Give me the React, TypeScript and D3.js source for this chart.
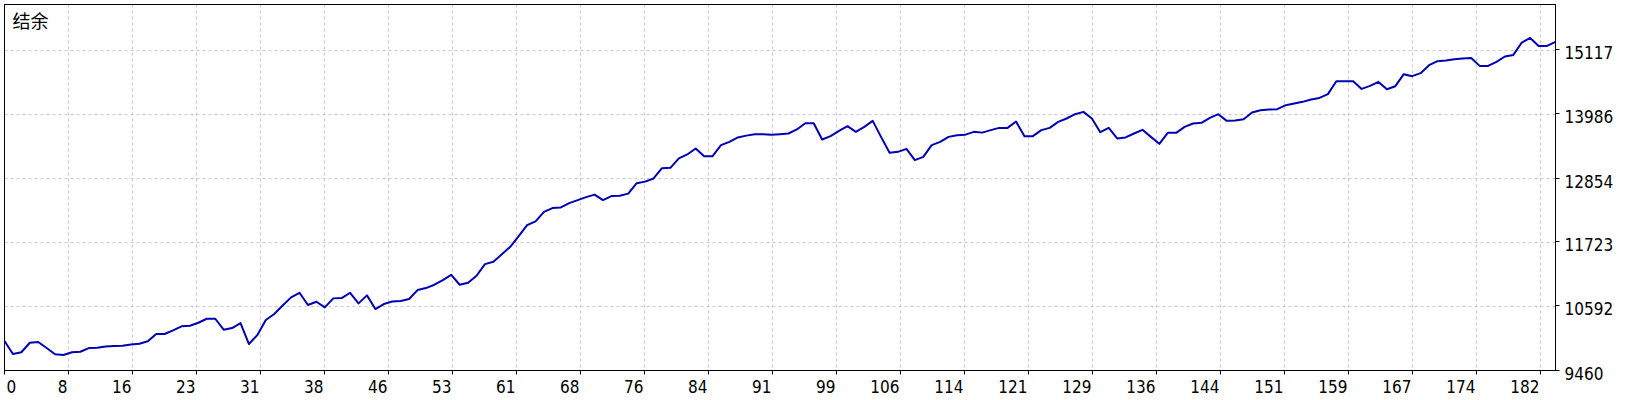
import * as d3 from 'd3'
import React, { useEffect, useRef } from 'react'

// balance after each deal
const balance = [
    9981, 9751, 9782, 9951, 9964, 9857, 9746, 9734, 9782, 9792,
    9857, 9861, 9884, 9893, 9896, 9919, 9933, 9976, 10105, 10105,
    10170, 10241, 10251, 10304, 10375, 10375, 10181, 10211, 10299, 9928,
    10087, 10352, 10458, 10608, 10753, 10834, 10617, 10675, 10576, 10735,
    10741, 10834, 10647, 10788, 10546, 10635, 10679, 10688, 10723, 10882,
    10917, 10976, 11059, 11152, 10976, 11011, 11135, 11341, 11382, 11513,
    11647, 11836, 12030, 12096, 12265, 12331, 12343, 12419, 12472, 12525,
    12569, 12472, 12543, 12548, 12587, 12772, 12799, 12855, 13037, 13043,
    13209, 13279, 13385, 13249, 13249, 13444, 13502, 13580, 13612, 13638,
    13638, 13626, 13638, 13650, 13721, 13832, 13832, 13544, 13603, 13696,
    13779, 13679, 13767, 13873, 13585, 13308, 13325, 13378, 13179, 13237,
    13444, 13502, 13590, 13620, 13629, 13679, 13665, 13709, 13749, 13749,
    13862, 13603, 13603, 13709, 13749, 13855, 13915, 13991, 14032, 13915,
    13673, 13749, 13562, 13580, 13650, 13714, 13590, 13467, 13661, 13661,
    13767, 13827, 13838, 13926, 13991, 13873, 13880, 13903, 14021, 14062,
    14074, 14079, 14150, 14180, 14209, 14251, 14279, 14345, 14574, 14574,
    14574, 14438, 14491, 14562, 14433, 14486, 14698, 14663, 14716, 14857,
    14928, 14940, 14963, 14975, 14986, 14845, 14845, 14915, 15011, 15039,
    15258, 15339, 15198, 15198, 15269,
]

const xLabels = [
    '0', '8', '16', '23', '31', '38', '46', '53', '61', '68', '76', '84', '91',
    '99', '106', '114', '121', '129', '136', '144', '151', '159', '167', '174', '182',
]
const yTicks = [9460, 10592, 11723, 12854, 13986, 15117]
const yMin = 9460
const yMax = 15930
const title = '结余'

const App = (): JSX.Element => {
    const ref = useRef<SVGSVGElement>(null)
    const width = 1640
    const height = 400
    const plot = { left: 4.5, top: 4.5, right: 1555.5, bottom: 370.5 }
    const gridStep = 64
    const font = '"DejaVu Sans Condensed", "DejaVu Sans", sans-serif'

    useEffect(() => {
        document.body.style.margin = '0'
        const svg = d3.select(ref.current)
        svg.selectAll('*').remove()

        const xScale = d3
            .scaleLinear()
            .domain([0, balance.length - 1])
            .range([plot.left, plot.right])
        const yScale = d3.scaleLinear().domain([yMin, yMax]).range([plot.bottom, plot.top])
        // vertical grid every 64px, labelled with the deal number
        const xGrid = d3
            .scaleLinear()
            .domain([0, xLabels.length - 1])
            .range([plot.left, plot.left + (xLabels.length - 1) * gridStep])

        svg.append('rect').attr('width', width).attr('height', height).attr('fill', '#fff')

        const grid = svg
            .append('g')
            .attr('stroke', '#c8c8c8')
            .attr('stroke-width', 1)
            .attr('stroke-dasharray', '3,3')

        grid.selectAll('.vx')
            .data(xLabels.slice(1))
            .enter()
            .append('line')
            .attr('x1', (d, i) => xGrid(i + 1))
            .attr('x2', (d, i) => xGrid(i + 1))
            .attr('y1', plot.top)
            .attr('y2', plot.bottom)

        grid.selectAll('.hy')
            .data(yTicks.slice(1))
            .enter()
            .append('line')
            .attr('x1', plot.left)
            .attr('x2', plot.right)
            .attr('y1', (d) => yScale(d))
            .attr('y2', (d) => yScale(d))

        const line = d3
            .line<number>()
            .x((d, i) => xScale(i))
            .y((d) => yScale(d))

        svg.append('path')
            .attr('d', line(balance))
            .attr('fill', 'none')
            .attr('stroke', '#0000b4')
            .attr('stroke-width', 2)
            .attr('stroke-linejoin', 'round')

        // frame
        svg.append('rect')
            .attr('x', plot.left)
            .attr('y', plot.top)
            .attr('width', plot.right - plot.left)
            .attr('height', plot.bottom - plot.top)
            .attr('fill', 'none')
            .attr('stroke', '#000')
            .attr('stroke-width', 1)

        // right axis
        const yAxis = svg.append('g')
        yTicks.forEach((t) => {
            yAxis.append('line')
                .attr('x1', plot.right)
                .attr('x2', plot.right + 4)
                .attr('y1', Math.round(yScale(t)) + 0.5 - 1)
                .attr('y2', Math.round(yScale(t)) + 0.5 - 1)
                .attr('stroke', '#000')
            yAxis.append('text')
                .attr('x', plot.right + 9)
                .attr('y', yScale(t) + 9)
                .attr('font-family', font)
                .attr('font-size', 17)
                .attr('fill', '#000')
                .text(t)
        })

        // bottom axis
        const xAxis = svg.append('g')
        xLabels.forEach((label, i) => {
            xAxis.append('line')
                .attr('x1', xGrid(i))
                .attr('x2', xGrid(i))
                .attr('y1', plot.bottom)
                .attr('y2', plot.bottom + 4)
                .attr('stroke', '#000')
            xAxis.append('text')
                .attr('x', i === 0 ? xGrid(i) + 2 : xGrid(i) - 1)
                .attr('y', 392.5)
                .attr('text-anchor', i === 0 ? 'start' : 'end')
                .attr('font-family', font)
                .attr('font-size', 17)
                .attr('fill', '#000')
                .text(label)
        })

        svg.append('text')
            .attr('x', 12.5)
            .attr('y', 28)
            .attr('font-family', '"Noto Sans CJK SC", sans-serif')
            .attr('font-size', 18)
            .attr('fill', '#000')
            .text(title)
    }, [])

    return (
        <svg
            ref={ref}
            width={width}
            height={height}
            style={{ position: 'absolute', left: 0, top: 0, display: 'block' }}
        />
    )
}

export default App
